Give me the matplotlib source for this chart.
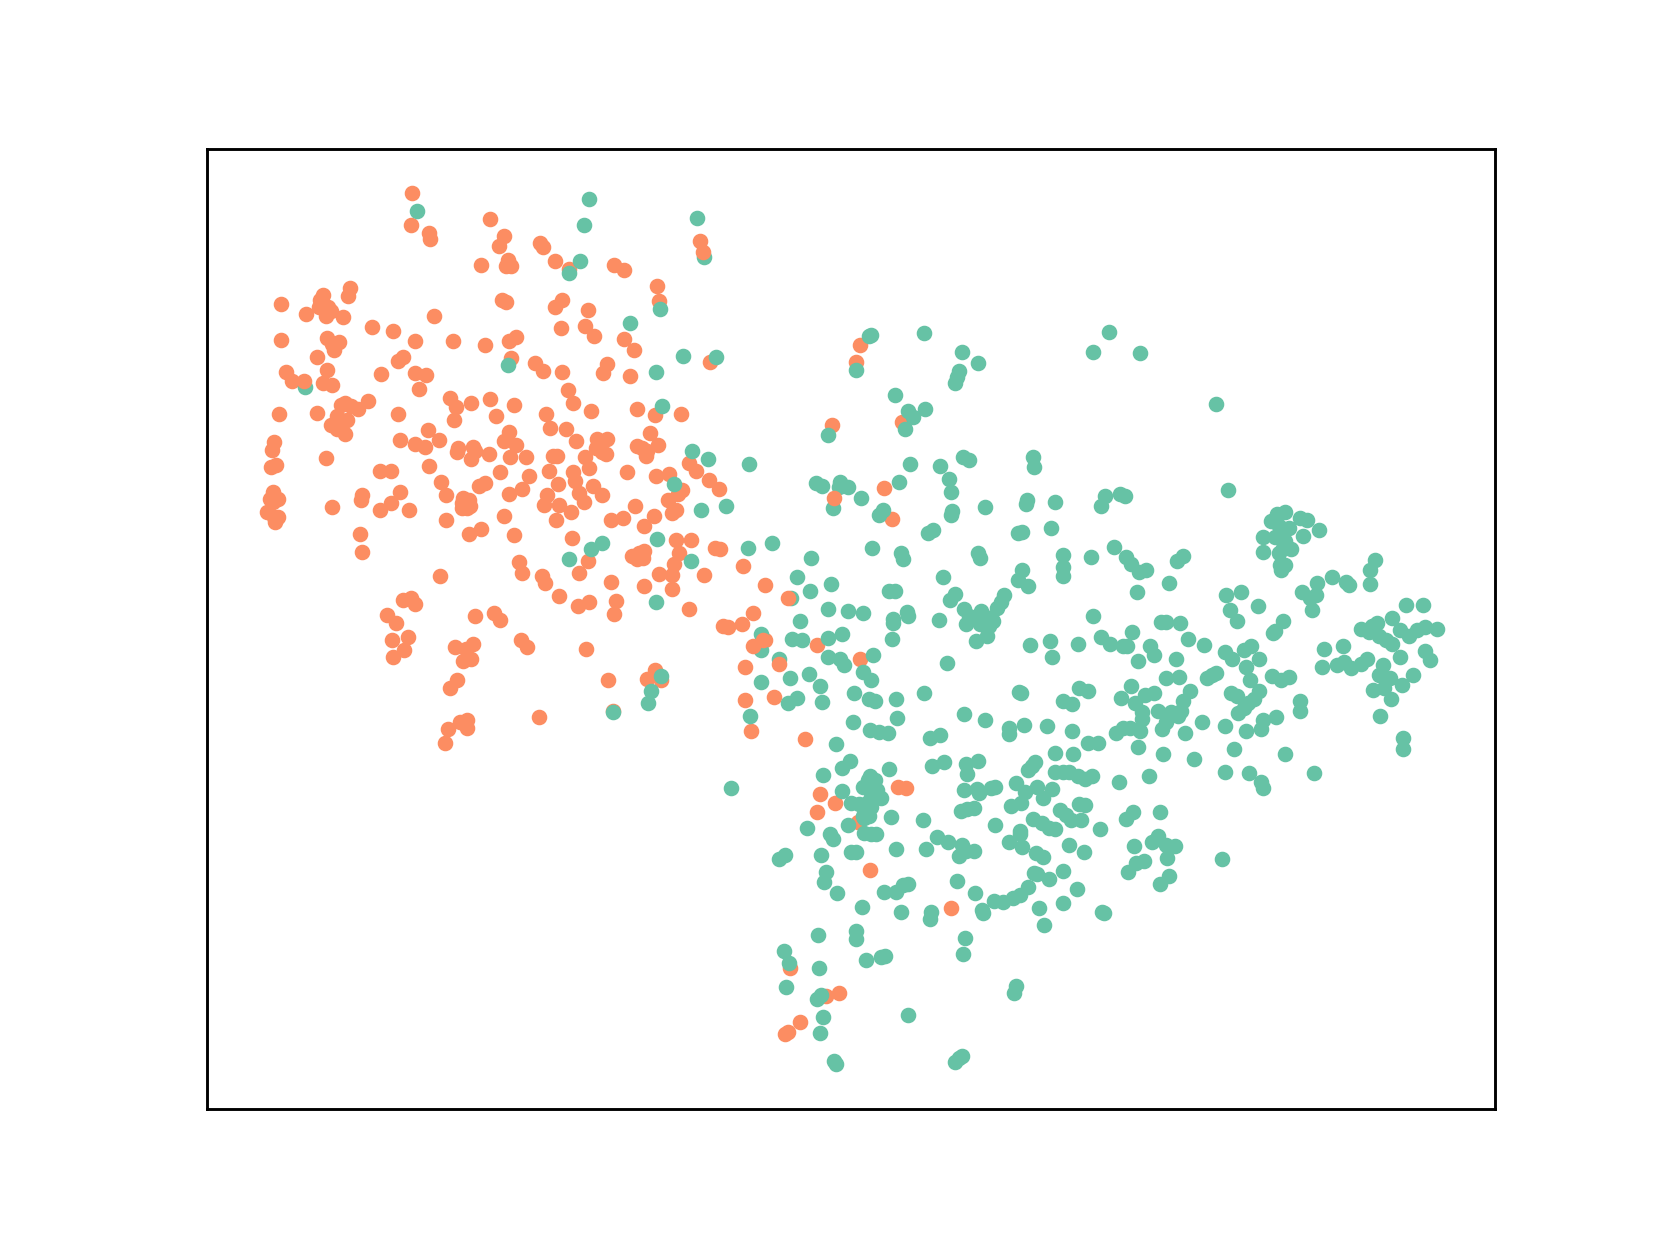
import matplotlib
matplotlib.use("Agg")
import matplotlib.pyplot as plt

# embedding coordinates
orange_pts = [
    (389,182),(388,212),(405,220),(406,226),(463,207),(476,223),(471,232),(510,229),(513,233),(524,246),
    (454,250),(480,245),(478,251),(483,251),(537,254),(580,250),(589,255),(620,270),(622,284),(474,283),
    (478,285),(531,283),(524,290),(555,293),(552,308),(530,310),(561,317),(589,320),(599,330),(661,227),
    (266,287),(305,278),(302,283),(329,279),(331,272),(301,290),(289,296),(310,290),(313,294),
    (308,298),(324,299),(410,298),(351,309),(371,312),(266,321),(309,319),(320,323),(314,325),(316,330),
    (392,322),(428,322),(458,326),(481,322),(487,318),(300,337),(381,337),(376,341),(483,338),(505,343),
    (513,350),(531,351),(573,344),(569,352),(595,355),(270,351),(276,360),(305,362),(314,363),
    (309,349),(360,353),(392,352),(402,354),(396,367),(536,368),(541,380),(601,386),(643,391),(618,392),
    (670,342),(264,391),(300,390),(322,382),(326,380),(332,383),(338,386),(348,379),(318,393),(328,396),
    (323,397),(313,401),(318,405),(326,410),(376,391),(425,376),(431,384),(445,380),(463,377),(468,393),
    (485,382),(429,396),(516,391),(558,388),(404,406),(378,415),(392,419),(401,422),(433,423),(432,427),
    (447,422),(445,433),(449,426),(415,415),(462,429),(481,408),(476,416),(487,420),(482,431),(497,431),
    (519,404),(534,405),(544,416),(522,430),(526,430),(552,431),(564,414),(573,414),(563,423),(568,427),
    (572,429),(601,421),(606,423),(614,409),(621,420),(611,426),(610,430),(259,417),(257,425),(308,432),
    (261,439),(256,441),(359,445),(369,445),(405,440),(472,446),(500,449),(518,445),(541,446),(556,442),
    (592,446),(543,454),(650,437),(632,447),(657,445),(669,453),(679,462),(619,449),(527,457),(560,459),
    (452,459),(458,456),(417,455),(258,464),(255,471),(263,471),(258,474),(252,483),(259,488),(263,488),
    (260,493),(342,467),(341,472),(378,464),(369,475),(359,481),(386,481),(314,479),(421,467),(437,470),
    (443,472),(436,475),(444,478),(436,480),(441,480),(481,466),(493,462),(517,467),(547,465),(551,474),
    (514,477),(528,477),(568,467),(539,483),(644,463),(640,466),(631,472),(600,478),(617,487),(634,484),
    (638,481),(577,491),(588,489),(525,491),(476,487),(421,491),(454,499),(443,504),(485,505),(340,504),
    (342,521),(608,497),(540,508),(638,510),(652,510),(675,517),(680,518),(641,522),(597,525),(603,522),
    (608,520),(601,528),(607,527),(490,531),(493,541),(512,544),(515,550),(555,530),(547,541),(636,532),
    (622,542),(634,543),(665,543),(701,534),(722,552),(577,549),(608,553),(634,556),(416,544),(528,563),
    (556,568),(546,572),(582,567),(580,580),(650,575),(381,566),(388,565),(392,570),(366,581),(374,588),
    (449,582),(467,579),(472,585),(385,601),(370,604),(382,614),(371,620),(492,604),(498,611),(553,613),
    (430,611),(440,613),(447,608),(437,624),(445,622),(432,642),(425,650),(574,642),(611,641),(618,633),
    (624,642),(579,671),(711,579),(700,589),(683,591),(687,592),(722,604),(771,609),(812,622),
    (703,630),(703,661),(731,658),(709,690),(760,698),(509,677),(441,680),(434,682),(423,688),(441,687),
    (420,701),(774,750),(788,758),(771,767),(810,776),(848,743),(855,744),(821,821),(898,857),(746,914),
    (780,940),(792,938),(755,965),(744,974),(741,976),(812,326),(808,342),(785,401),(851,398),
    (834,461),(842,490),
]

# these ones sit on top of the green points
orange_top_pts = [(664,238),(287,360),(787,470),(744,565),(720,604),(711,610),(735,627)]

green_pts = [
    (394,199),(556,188),(551,212),(658,206),(665,243),(548,246),(537,258),(623,292),(595,305),(645,336),
    (676,337),(480,345),(619,351),(288,365),(625,383),(653,426),(668,433),(707,438),(636,457),(662,481),
    (685,478),(558,518),(568,513),(620,509),(537,528),(652,530),(706,517),(729,513),(619,568),(766,527),
    (752,545),(784,551),(765,558),(747,565),(782,575),(800,577),(815,579),(755,586),(748,603),(757,604),(782,602),
    (795,599),(842,603),(843,584),(843,588),(856,578),(857,582),(839,558),(845,558),(823,517),(850,522),
    (852,528),(718,599),(718,614),(735,622),(746,640),(764,636),(782,620),(793,622),(797,628),(824,618),
    (815,634),(822,642),(774,648),(806,654),(820,660),(826,662),(846,660),(718,644),(752,659),(744,664),
    (776,663),(708,676),(805,682),(821,689),(830,691),(838,692),(847,678),(872,654),(894,626),(624,638),
    (615,652),(612,664),(579,672),(690,744),(822,316),(820,317),(872,314),(908,332),(923,343),(905,350),
    (903,356),(901,362),(808,349),(845,373),(857,388),(862,394),(873,386),(854,405),(782,411),(859,438),
    (887,440),(909,431),(915,434),(896,452),(898,464),(849,455),(770,456),(776,459),(793,455),(792,460),
    (800,460),(813,470),(786,480),(833,481),(830,486),(881,500),(876,503),(899,482),(898,486),(930,479),
    (975,431),(976,441),(969,472),(968,476),(996,474),(992,498),(965,502),(961,503),(1043,468),(1039,478),
    (1057,466),(1062,468),(1032,332),(1047,313),(1076,333),(1148,381),(1159,463),(923,522),(925,527),
    (1003,524),(1003,535),(1003,544),(965,538),(961,548),(970,553),(890,545),(901,561),(897,566),(948,562),
    (945,568),(941,574),(1030,526),(1051,516),(1063,526),(1067,532),(1075,540),(1082,538),(1111,530),
    (1116,525),(1103,550),(1073,559),(1157,562),(1171,559),(1161,576),(1187,572),(1167,586),(910,575),
    (915,582),(926,577),(921,583),(929,582),(935,583),(886,585),(912,589),(925,589),(933,591),(937,586),
    (932,600),(921,605),(1032,582),(972,609),(991,605),(1017,608),(993,620),(1039,601),(1048,608),(1060,610),
    (1064,610),(1068,597),(1096,587),(1100,587),(1114,588),(1085,610),(1089,618),(1074,624),(1121,603),
    (1136,609),(1110,622),(1156,616),(1163,622),(1174,614),(1181,610),(1176,630),(1188,622),(1203,596),
    (1201,598),(1211,586),(1200,638),(1209,642),(1216,639),(1180,642),(1139,640),(1144,637),(1148,635),
    (1100,640),(1113,639),(1067,648),(1058,659),(1081,656),(1089,654),(1071,664),(1078,672),(1078,679),
    (1093,671),(1116,662),(1123,652),(1105,672),(1115,671),(1112,676),(1162,654),(1167,657),(1188,652),
    (1183,660),(1178,664),(1174,668),(1168,673),(1192,680),(1204,677),(1227,662),(1227,671),(1134,682),
    (1156,685),(1176,690),(1190,688),(1060,687),(1053,692),(1066,687),(1076,690),(1100,682),(1097,688),
    (1118,692),(962,653),(964,654),(1003,662),(1012,665),(1018,650),(1027,652),(910,674),(930,680),(952,687),
    (952,693),(966,684),(988,685),(1012,690),(1027,701),(1036,701),(878,697),(887,694),(880,723),(891,719),
    (1074,705),(1098,712),(1127,717),(1165,707),(1156,729),(1179,730),(1190,738),(1192,744),(1213,712),
    (1240,730),(1084,733),(1056,738),(996,711),(1013,712),(789,702),(802,718),(795,725),(777,732),(839,726),
    (912,721),(923,718),(913,731),(977,719),(974,723),(970,727),(996,729),(1003,729),(1009,729),(1017,733),
    (1024,735),(1031,733),(959,739),(910,746),(922,745),(924,749),(935,744),(939,743),(993,745),(979,743),
    (967,748),(984,753),(954,761),(964,758),(821,733),(819,736),(826,736),(815,743),(828,746),(795,747),
    (822,752),(832,753),(803,758),(811,759),(818,758),(822,762),(815,770),(820,770),(841,771),(800,779),
    (762,782),(816,772),(871,774),(907,766),(913,764),(919,763),(939,779),(975,773),(983,777),(990,782),
    (996,783),(1000,765),(1006,769),(1018,759),(1024,760),(1011,774),(1020,774),(1038,783),(1063,773),
    (1069,767),(1095,767),(963,785),(963,787),(952,795),(965,800),(978,805),(984,809),(1009,798),(1023,804),
    (1087,795),(1093,789),(1100,798),(1109,799),(1070,799),(1101,810),(1080,813),(1072,815),(1065,823),
    (1103,827),(1095,835),(1153,811),(783,787),(786,792),(816,786),(822,787),(827,787),(803,804),(808,804),
    (775,807),(735,811),(741,807),(846,802),(884,790),(895,795),(874,802),(908,798),(912,803),(905,808),
    (919,803),(903,832),(976,824),(1003,822),(990,830),(970,837),(1016,839),(979,825),(780,823),(778,833),
    (790,843),(834,842),(846,842),(852,836),(857,835),(850,861),(814,856),(920,843),(938,851),(947,852),
    (956,848),(963,845),(981,857),(1003,853),(985,873),(1040,861),(1042,862),(927,859),(928,862),(879,861),
    (878,868),(772,883),(808,879),(808,887),(911,886),(909,901),(740,898),(745,909),(817,906),(832,904),
    (835,903),(773,914),(742,932),(771,943),(775,939),(777,960),(774,975),(857,958),(959,931),(957,938),
    (787,1002),(789,1005),(901,1003),(905,999),(908,997),(1213,483),(1205,485),(1199,492),(1207,497),
    (1216,498),(1227,489),(1233,491),(1245,500),(1230,506),(1192,507),(1203,507),(1209,508),(1213,511),
    (1211,517),(1218,518),(1207,522),(1192,521),(1208,533),(1213,533),(1209,538),(1298,529),(1293,538),
    (1257,545),(1270,549),(1273,552),(1293,551),(1243,550),(1229,559),(1242,562),(1236,565),(1238,576),
    (1327,571),(1343,571),(1314,583),(1284,594),(1295,591),(1299,588),(1292,597),(1301,600),(1321,595),
    (1330,600),(1337,595),(1345,592),(1356,594),(1308,604),(1314,608),(1345,615),(1349,623),(1249,613),
    (1267,610),(1321,620),(1248,630),(1262,628),(1268,625),(1275,631),(1284,627),(1290,622),(1305,628),
    (1301,637),(1312,640),(1333,637),(1323,647),(1296,651),(1306,650),(1313,660),(1302,676),(1324,697),
    (1324,707),
]

orange_x = [p[0] for p in orange_pts]
orange_y = [p[1] for p in orange_pts]
top_x = [p[0] for p in orange_top_pts]
top_y = [p[1] for p in orange_top_pts]
green_x = [p[0] for p in green_pts]
green_y = [p[1] for p in green_pts]

fig, ax = plt.subplots(figsize=(6.4, 4.8))
fig.subplots_adjust(left=0.1247)
ax.scatter(orange_x, orange_y, c="#fc8d62", s=11)
ax.scatter(green_x, green_y, c="#66c2a5", s=11)
ax.scatter(top_x, top_y, c="#fc8d62", s=11)
ax.set_xlim(196, 1411)
ax.set_ylim(1047, 141)
ax.set_xticks([])
ax.set_yticks([])
plt.savefig("out.png", dpi=259.6)
